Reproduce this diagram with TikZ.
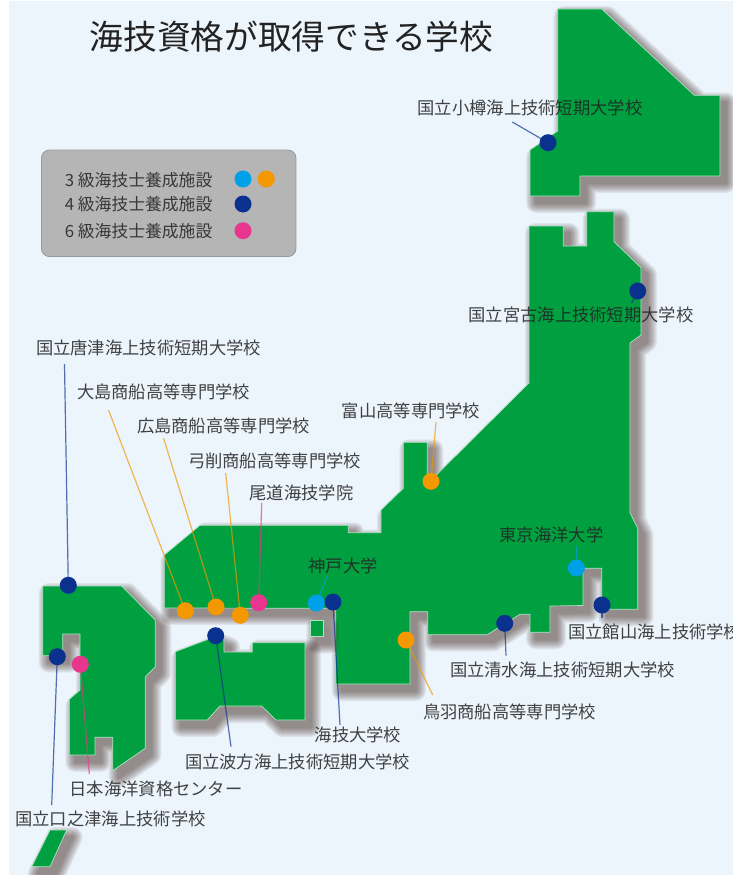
\documentclass[tikz,border=0pt]{standalone}
\usepackage{fontspec}
\setmainfont{Noto Sans CJK JP}
\definecolor{seabg}{HTML}{ECF4FC}
\definecolor{land}{HTML}{00A040}
\definecolor{shadowc}{HTML}{40281F}
\definecolor{cy}{HTML}{00A0E9}
\definecolor{og}{HTML}{F39800}
\definecolor{nv}{HTML}{0B318F}
\definecolor{pk}{HTML}{E8368F}
\definecolor{txt}{HTML}{222222}
\tikzset{
 x=1pt,y=-1pt,
 landfill/.style={fill=land,draw=white!70!land,line width=0.7pt,line join=miter},
 pin/.style={circle,minimum size=17pt,inner sep=0pt,fill=#1},
 lead/.style={draw=#1,line width=1.2pt,opacity=0.68},
 lbl/.style={inner sep=0pt,text=txt,opacity=0.85,yshift=-0.7pt,font=\fontsize{17.3}{20}\selectfont},
 lgd/.style={inner sep=0pt,text=txt,opacity=0.85,font=\fontsize{16.8}{20}\selectfont},
}
\newcommand{\isl}[1]{%
 \foreach \w in {20,18,16,14,12,10,8,6,4,2}{
  \begin{scope}[transparency group,opacity=0.068]
  \filldraw[shadowc,line width=\w pt,line join=round,shift={(6,7)}] #1;
  \end{scope}
 }
 \path[landfill] #1;
}
\begin{document}
\begin{tikzpicture}
\useasboundingbox (0,0) rectangle (733,875);
\clip (0,0) rectangle (733,875);
\fill[white] (0,0) rectangle (733,875);
\fill[seabg] (9,1) rectangle (733,875);
% islands
\isl{(557.7,9)--(601.7,9)--(694.3,95.3)--(720,95.3)--(720,176)--(580,176)--(580,196)--(530,196)--(530,150)--(557.7,131)--cycle}
\isl{(529,226)--(563.3,226)--(563.3,246)--(586.7,246)--(586.7,211.7)--(614,211.7)--(614,241.7)--(641,267.7)--(641,335)--(630,343)--(630,512.7)--(637.7,528.3)--(637.7,609.3)--(601.7,609.3)--(601.7,568.3)--(583,568.3)--(583,605.5)--(550,606)--(550,632.3)--(530,632.3)--(530,614.3)--(520,614.3)--(487.3,634.7)--(427.7,634.7)--(427.7,611.7)--(410,611.7)--(410,684)--(335.7,684)--(335.7,608.3)--(164.3,608)--(164.3,555)--(200,525.3)--(348.3,525.3)--(348.3,532.7)--(381,532.7)--(381,510)--(403.3,488.3)--(403.3,442.3)--(427.3,442.3)--(427.3,484)--(529,383)--cycle}
\isl{(310.3,620)--(323.3,620)--(323.3,636.7)--(310.3,636.7)--cycle}
\isl{(175.3,651.7)--(215,636.7)--(224,640)--(224,652)--(252.3,652)--(252.3,642.7)--(305,642.7)--(305,720)--(276,720)--(261.7,706)--(220,706)--(207.3,720)--(175.3,720)--cycle}
\isl{(42.7,586)--(121.7,586)--(155.3,620)--(155.3,666.7)--(145.3,676.7)--(145.3,748.3)--(112.7,770.7)--(112.7,737.3)--(95,737.3)--(95,755)--(69.3,755)--(69.3,699.3)--(80,690)--(80,634)--(62.7,634)--(62.7,655.7)--(42.7,655.7)--cycle}
\isl{(50,830)--(66.7,830)--(50,866.7)--(31.7,866.7)--cycle}
% title
\node[inner sep=0pt,text=txt,font=\fontsize{33.7}{38}\selectfont] (title) at (291.5,37) {海技資格が取得できる学校};
% legend
\node[draw=black!40,fill=black!29,rounded corners=8pt,line width=0.8pt,minimum width=254.5pt,minimum height=106.5pt,inner sep=0pt] (legend) at (168.7,203.3) {};
\node[lgd,anchor=east] (l3) at (212.5,180) {3 級海技士養成施設};
\node[lgd,anchor=east] (l4) at (212.5,204.5) {4 級海技士養成施設};
\node[lgd,anchor=east] (l6) at (212.5,231) {6 級海技士養成施設};
\node[pin=cy] (k3a) at (243,179) {};
\node[pin=og] (k3b) at (266.3,179) {};
\node[pin=nv] (k4) at (243,204) {};
\node[pin=pk] (k6) at (243,230.7) {};
% leader ends
\coordinate (eOtaru) at (512.3,122);
\coordinate (eMiyako) at (631.7,303);
\coordinate (eKaratsu) at (64.5,364);
\coordinate (eOshima) at (108.5,410);
\coordinate (eHiro) at (163.5,438);
\coordinate (eYuge) at (225.7,473);
\coordinate (eOno) at (261.7,503);
\coordinate (eToyama) at (436,422);
\coordinate (eKobe) at (327.3,576);
\coordinate (eTokyo) at (576.3,546);
\coordinate (eTate) at (602,618.3);
\coordinate (eShim) at (506,655.7);
\coordinate (eToba) at (432.7,695);
\coordinate (eKaigi) at (340,725);
\coordinate (eHaka) at (231,746.7);
\coordinate (eNihon) at (89.3,774);
\coordinate (eKuchi) at (51.7,805);
% pins
\coordinate (cOtaru) at (548,142.7);
\coordinate (cMiyako) at (637.7,291);
\coordinate (cKaratsu) at (68.3,585.3);
\coordinate (cOshima) at (185.3,610.7);
\coordinate (cHiro) at (216,607);
\coordinate (cYuge) at (240.3,615.3);
\coordinate (cOno) at (258.7,602.7);
\coordinate (cToyama) at (431,481.3);
\coordinate (cKobe) at (316.3,603);
\coordinate (cTokyo) at (576.3,568);
\coordinate (cTate) at (602,605);
\coordinate (cShim) at (504.7,623.3);
\coordinate (cToba) at (406,640);
\coordinate (cKaigi) at (333,602);
\coordinate (cHaka) at (215.7,635.7);
\coordinate (cNihon) at (80.3,664.3);
\coordinate (cKuchi) at (57.3,656.7);
% leaders
\draw[lead=nv] (eOtaru)--(cOtaru);
\draw[lead=nv] (eMiyako)--(cMiyako);
\draw[lead=nv] (eKaratsu)--(cKaratsu);
\draw[lead=og] (eOshima)--(cOshima);
\draw[lead=og] (eHiro)--(cHiro);
\draw[lead=og] (eYuge)--(cYuge);
\draw[lead=pk] (eOno)--(cOno);
\draw[lead=og] (eToyama)--(cToyama);
\draw[lead=cy] (eKobe)--(cKobe);
\draw[lead=cy] (eTokyo)--(cTokyo);
\draw[lead=nv] (eTate)--(cTate);
\draw[lead=nv] (eShim)--(cShim);
\draw[lead=og] (eToba)--(cToba);
\draw[lead=nv] (eKaigi)--(cKaigi);
\draw[lead=nv] (eHaka)--(cHaka);
\draw[lead=pk] (eNihon)--(cNihon);
\draw[lead=nv] (eKuchi)--(cKuchi);
\node[pin=nv] (pOtaru) at (cOtaru) {};
\node[pin=nv] (pMiyako) at (cMiyako) {};
\node[pin=nv] (pKaratsu) at (cKaratsu) {};
\node[pin=og] (pOshima) at (cOshima) {};
\node[pin=og] (pHiro) at (cHiro) {};
\node[pin=og] (pYuge) at (cYuge) {};
\node[pin=pk] (pOno) at (cOno) {};
\node[pin=og] (pToyama) at (cToyama) {};
\node[pin=cy] (pKobe) at (cKobe) {};
\node[pin=cy] (pTokyo) at (cTokyo) {};
\node[pin=nv] (pTate) at (cTate) {};
\node[pin=nv] (pShim) at (cShim) {};
\node[pin=og] (pToba) at (cToba) {};
\node[pin=nv] (pKaigi) at (cKaigi) {};
\node[pin=nv] (pHaka) at (cHaka) {};
\node[pin=pk] (pNihon) at (cNihon) {};
\node[pin=nv] (pKuchi) at (cKuchi) {};
% labels
\node[lbl] (tOtaru) at (530,107) {国立小樽海上技術短期大学校};
\node[lbl] (tMiyako) at (581,314) {国立宮古海上技術短期大学校};
\node[lbl] (tKaratsu) at (148.5,347) {国立唐津海上技術短期大学校};
\node[lbl] (tOshima) at (163.5,391) {大島商船高等専門学校};
\node[lbl] (tHiro) at (223.5,425) {広島商船高等専門学校};
\node[lbl] (tYuge) at (274.5,460) {弓削商船高等専門学校};
\node[lbl] (tOno) at (301.5,492) {尾道海技学院};
\node[lbl] (tToyama) at (411,410) {富山高等専門学校};
\node[lbl] (tKobe) at (343,565) {神戸大学};
\node[lbl] (tTokyo) at (551.5,534) {東京海洋大学};
\node[lbl,anchor=west] (tTate) at (568,631) {国立館山海上技術学校};
\node[lbl] (tShim) at (562.5,669) {国立清水海上技術短期大学校};
\node[lbl] (tToba) at (509.5,711) {鳥羽商船高等専門学校};
\node[lbl] (tKaigi) at (358,734) {海技大学校};
\node[lbl] (tHaka) at (297.5,761) {国立波方海上技術短期大学校};
\node[lbl] (tNihon) at (156,788) {日本海洋資格センター};
\node[lbl] (tKuchi) at (110.5,818) {国立口之津海上技術学校};
\end{tikzpicture}
\end{document}
